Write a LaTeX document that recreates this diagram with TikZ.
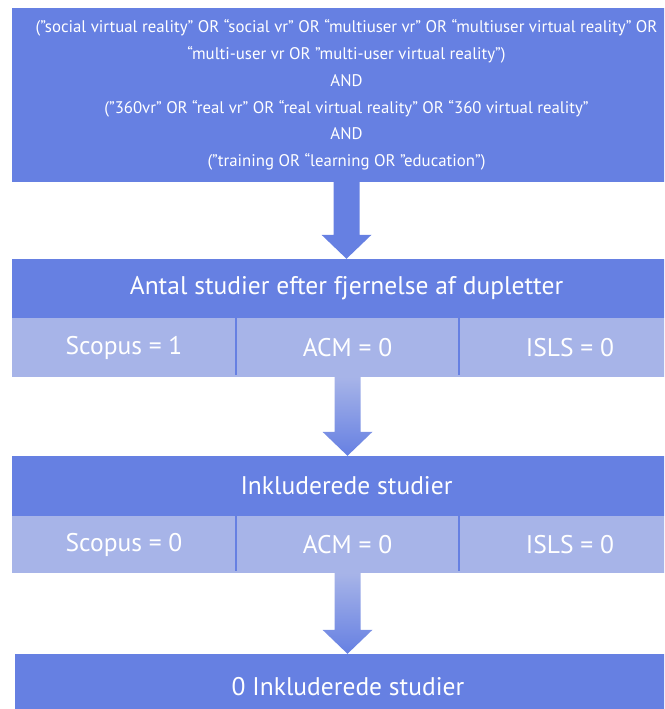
\documentclass[tikz,border=0pt]{standalone}
\usepackage{fontspec}
\setmainfont{PT Sans}
\usetikzlibrary{calc}

\definecolor{flowdark}{RGB}{102,128,226}
\definecolor{flowlight}{RGB}{167,180,232}

% block arrow from one node to the next
\newcommand{\flowarrow}[3]{%
  \path[#3] let \p1=(#1), \p2=(#2) in
    (\x1-13pt,\y1) -- (\x1+13pt,\y1) -- (\x1+13pt,\y2+24pt) -- (\x1+25pt,\y2+24pt)
    -- (\x1,\y2) -- (\x1-25pt,\y2+24pt) -- (\x1-13pt,\y2+24pt) -- cycle;}

\begin{document}
\begin{tikzpicture}[x=1pt,y=-1pt,
  query/.style={fill=flowdark,text=white,inner sep=0pt,minimum width=669pt,
    minimum height=174pt,align=center,font=\fontsize{16.8}{26.8}\selectfont},
  header/.style={fill=flowdark,text=white,inner sep=0pt,minimum width=669pt,
    font=\fontsize{25.5}{30}\selectfont},
  cell/.style={fill=flowlight,text=white,inner sep=0pt,
    font=\fontsize{25.5}{30}\selectfont},
  divider/.style={draw=flowdark,line width=2pt}]

\useasboundingbox (0,0) rectangle (664,709);
\clip (0,0) rectangle (664,709);

% Search string
\node[query] (query) at (346.5,95)
  {(”social virtual reality” OR “social vr” OR “multiuser vr” OR “multiuser virtual reality” OR\\
   “multi-user vr OR ”multi-user virtual reality”)\\
   AND\\
   (”360vr” OR “real vr” OR “real virtual reality” OR “360 virtual reality”\\
   AND\\
   (”training OR “learning OR ”education”)};

% After duplicates
\node[header,minimum height=59pt] (dup) at (346.5,288.5) {Antal studier efter fjernelse af dupletter};
\node[cell,minimum width=224pt,minimum height=59pt] (dupscopus) at (124,347.5) {Scopus = 1};
\node[cell,minimum width=223pt,minimum height=59pt] (dupacm) at (347.5,347.5) {ACM = 0};
\node[cell,minimum width=222pt,minimum height=59pt] (dupisls) at (570,347.5) {ISLS = 0};
\draw[divider] (dupscopus.north east) ++(0,-2) -- ([yshift=2pt]dupscopus.south east);
\draw[divider] (dupacm.north east) ++(0,-2) -- ([yshift=2pt]dupacm.south east);

% Included
\node[header,minimum height=60pt] (incl) at (346.5,486) {Inkluderede studier};
\node[cell,minimum width=224pt,minimum height=57pt] (inclscopus) at (124,544.5) {Scopus = 0};
\node[cell,minimum width=223pt,minimum height=57pt] (inclacm) at (347.5,544.5) {ACM = 0};
\node[cell,minimum width=222pt,minimum height=57pt] (inclisls) at (570,544.5) {ISLS = 0};
\draw[divider] (inclscopus.north east) ++(0,-2) -- ([yshift=2pt]inclscopus.south east);
\draw[divider] (inclacm.north east) ++(0,-2) -- ([yshift=2pt]inclacm.south east);

% Result
\node[header,minimum width=666pt,minimum height=66pt] (result) at (348,687) {0 Inkluderede studier};

% Arrows
\flowarrow{query.south}{dup.north}{fill=flowdark}
\flowarrow{dupacm.south}{incl.north}{top color=flowlight,bottom color=flowdark}
\flowarrow{inclacm.south}{result.north}{top color=flowlight,bottom color=flowdark}

\end{tikzpicture}
\end{document}
